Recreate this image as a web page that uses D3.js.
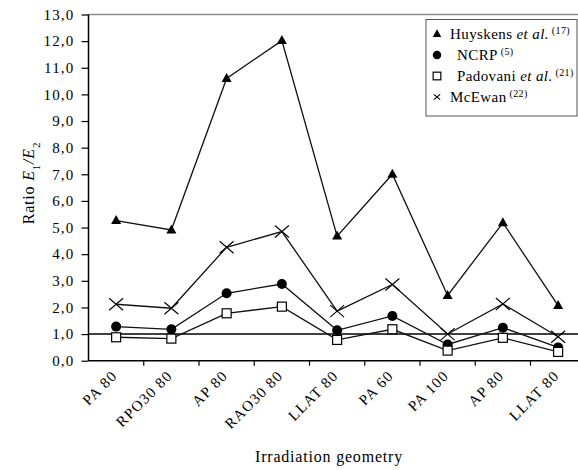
<!DOCTYPE html>
<html>
<head>
<meta charset="utf-8">
<script src="https://cdn.jsdelivr.net/npm/d3@7"></script>
<style>
  body { margin: 0; background: #fff; }
  svg { display: block; font-family: "Liberation Serif", "DejaVu Serif", serif; }
</style>
</head>
<body>
<div id="chart"></div>
<script>
// data
var categories = ["PA 80", "RPO30 80", "AP 80", "RAO30 80", "LLAT 80", "PA 60", "PA 100", "AP 80", "LLAT 80"];
var huyskens = [5.26, 4.91, 10.6, 12.02, 4.68, 7.0, 2.45, 5.18, 2.07];
var ncrp     = [1.28, 1.18, 2.53, 2.88, 1.14, 1.68, 0.61, 1.24, 0.50];
var padovani = [0.88, 0.83, 1.78, 2.03, 0.78, 1.18, 0.38, 0.86, 0.33];
var mcewan   = [2.12, 1.97, 4.26, 4.85, 1.86, 2.86, 1.00, 2.13, 0.90];
var yTicks = d3.range(0, 14, 1);
var refValue = 1.0;

var series = [
    { name: "Huyskens", italic: "et al.", ref: "(17)", values: huyskens, marker: "triangle" },
    { name: "NCRP", italic: "", ref: "(5)", values: ncrp, marker: "circle" },
    { name: "Padovani", italic: "et al.", ref: "(21)", values: padovani, marker: "square" },
    { name: "McEwan", italic: "", ref: "(22)", values: mcewan, marker: "cross" }
];

var width = 578, height = 470;
var plotLeft = 88.5, plotRight = 585.75, plotTop = 14.5, plotBottom = 360.7;

var svg = d3.select("#chart").append("svg")
    .attr("width", width)
    .attr("height", height);

var x = d3.scaleBand()
    .domain(d3.range(categories.length))
    .range([plotLeft, plotRight])
    .padding(0);

var y = d3.scaleLinear()
    .domain([0, 13])
    .range([plotBottom, plotTop]);

var cx = i => x(i) + x.bandwidth() / 2;

var locale = d3.formatLocale({ decimal: ",", thousands: ".", grouping: [3], currency: ["", ""] });
var fmt = locale.format(".1f");

// top border of plot area
svg.append("line")
    .attr("x1", plotLeft).attr("x2", width)
    .attr("y1", y(13)).attr("y2", y(13))
    .style("stroke", "#8a8a8a")
    .style("stroke-width", 1.5);

// y axis
var yAxis = d3.axisLeft(y)
    .tickValues(yTicks)
    .tickSize(7)
    .tickPadding(7)
    .tickFormat(fmt);

var yG = svg.append("g")
    .attr("transform", `translate(${plotLeft},0)`)
    .call(yAxis);
yG.select(".domain").attr("d", `M0,${plotBottom}V${plotTop}`).style("stroke-width", 1.5);
yG.selectAll(".tick line").style("stroke-width", 1.2);
yG.selectAll("text")
    .style("font-size", "15px")
    .style("letter-spacing", "1.2px")
    .style("font-family", "Liberation Serif")
    .attr("fill", "#000");

// x axis: labels at band centres, ticks at band boundaries
var xAxis = d3.axisBottom(x)
    .tickSize(0)
    .tickFormat(i => categories[i]);

var xG = svg.append("g")
    .attr("transform", `translate(0,${plotBottom})`)
    .call(xAxis);
xG.select(".domain").attr("d", `M${plotLeft},0H${width}`).style("stroke-width", 1.5);
xG.selectAll("text")
    .attr("text-anchor", "end")
    .attr("dy", null)
    .attr("y", 0)
    .attr("transform", "translate(2,16) rotate(-45)")
    .style("font-size", "15px")
    .style("letter-spacing", "1.2px")
    .style("font-family", "Liberation Serif")
    .attr("fill", "#000");

xG.selectAll(".btick")
    .data(d3.range(categories.length))
    .enter().append("line")
    .attr("class", "btick")
    .attr("x1", i => x(i) + x.bandwidth())
    .attr("x2", i => x(i) + x.bandwidth())
    .attr("y1", 0).attr("y2", 5)
    .style("stroke", "#000")
    .style("stroke-width", 1.2);

// reference line at 1,0
svg.append("line")
    .attr("x1", plotLeft).attr("x2", width)
    .attr("y1", y(refValue)).attr("y2", y(refValue))
    .style("stroke", "#000")
    .style("stroke-width", 1.5);

// lines
var line = d3.line()
    .x((d, i) => cx(i))
    .y(d => y(d));

svg.append("g").selectAll("path")
    .data(series).enter()
    .append("path")
    .attr("d", d => line(d.values))
    .style("fill", "none")
    .style("stroke", "#111")
    .style("stroke-width", 1.3);

// markers (k = size factor)
var drawMarker = (g, type, k) => {
    if (type === "triangle") {
        g.append("path").attr("d", `M0,${-5.5*k}L${5*k},${3.5*k}L${-5*k},${3.5*k}Z`).style("fill", "#000");
    } else if (type === "circle") {
        g.append("circle").attr("r", 5 * k).style("fill", "#000");
    } else if (type === "square") {
        g.append("rect").attr("x", -4.5 * k).attr("y", -4.5 * k).attr("width", 9 * k).attr("height", 9 * k)
            .style("fill", "#fff").style("stroke", "#000").style("stroke-width", 1.2);
    } else {
        var c = k < 1 ? 0.45 : 1;
        g.append("path").attr("d", `M${-7*c},${-6*c}L${7*c},${6*c}M${-7*c},${6*c}L${7*c},${-6*c}`)
            .style("stroke", "#000").style("stroke-width", 1.1);
    }
};

series.forEach(s => {
    svg.append("g").selectAll("g")
        .data(s.values).enter()
        .append("g")
        .attr("transform", (d, i) => `translate(${cx(i)},${y(d)})`)
        .each(function() { drawMarker(d3.select(this), s.marker, 1); });
});

// axis titles
var yTitle = svg.append("text")
    .attr("transform", `translate(34,183) rotate(-90)`)
    .attr("text-anchor", "middle")
    .style("font-size", "16px")
    .style("letter-spacing", "0.8px")
    .attr("fill", "#000");
yTitle.append("tspan").text("Ratio ");
yTitle.append("tspan").style("font-style", "italic").text("E");
yTitle.append("tspan").attr("baseline-shift", "sub").style("font-size", "11px").text("1");
yTitle.append("tspan").style("font-style", "italic").text("/E");
yTitle.append("tspan").attr("baseline-shift", "sub").style("font-size", "11px").text("2");

svg.append("text")
    .attr("x", 329)
    .attr("y", 462)
    .attr("text-anchor", "middle")
    .style("font-size", "16px")
    .style("letter-spacing", "0.8px")
    .attr("fill", "#000")
    .text("Irradiation geometry");

// legend
var lg = svg.append("g");
lg.append("rect")
    .attr("x", 426).attr("y", 19.5)
    .attr("width", 151).attr("height", 96.5)
    .style("fill", "#fff")
    .style("stroke", "#555")
    .style("stroke-width", 1);

var rowY = [34, 55, 76, 97];
series.forEach((s, i) => {
    var row = lg.append("g").attr("transform", `translate(437,${rowY[i]})`);
    drawMarker(row, s.marker, 0.85);
    var t = row.append("text")
        .attr("x", s.marker === "triangle" || s.marker === "cross" ? 13 : 20)
        .attr("y", 5)
        .style("font-size", "15px")
        .style("letter-spacing", "0.4px")
        .attr("fill", "#000");
    t.append("tspan").text(s.name + (s.italic ? " " : ""));
    if (s.italic) t.append("tspan").style("font-style", "italic").text(s.italic);
    t.append("tspan").attr("dy", -5).style("font-size", "10px").text(" " + s.ref);
});
</script>
</body>
</html>
